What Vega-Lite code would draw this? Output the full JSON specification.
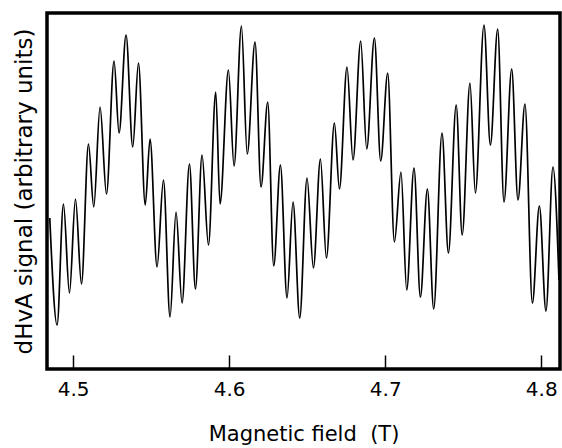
{
  "$schema": "https://vega.github.io/schema/vega-lite/v6.json",
  "autosize": {"type": "none"},
  "padding": {"left": 47, "top": 13, "right": 2, "bottom": 79},
  "width": 513,
  "height": 356,
  "background": "white",
  "config": {
    "view": {"stroke": "black", "strokeWidth": 3.5},
    "font": "DejaVu Sans"
  },
  "data": {"values": [
    {"B": 4.48507, "s": 151}, {"B": 4.48975, "s": 44}, {"B": 4.49385, "s": 165}, {"B": 4.49769, "s": 76},
    {"B": 4.50154, "s": 170}, {"B": 4.50538, "s": 85}, {"B": 4.50987, "s": 225}, {"B": 4.51326, "s": 162},
    {"B": 4.51730, "s": 262}, {"B": 4.52140, "s": 175}, {"B": 4.52627, "s": 308}, {"B": 4.52947, "s": 236},
    {"B": 4.53395, "s": 334}, {"B": 4.53824, "s": 222}, {"B": 4.54190, "s": 306}, {"B": 4.54625, "s": 164},
    {"B": 4.54933, "s": 230}, {"B": 4.55381, "s": 102}, {"B": 4.55791, "s": 189}, {"B": 4.56214, "s": 52},
    {"B": 4.56598, "s": 157}, {"B": 4.56983, "s": 66}, {"B": 4.57457, "s": 205}, {"B": 4.57841, "s": 80},
    {"B": 4.58264, "s": 214}, {"B": 4.58674, "s": 124}, {"B": 4.59142, "s": 277}, {"B": 4.59417, "s": 165},
    {"B": 4.59955, "s": 299}, {"B": 4.60314, "s": 203}, {"B": 4.60788, "s": 343}, {"B": 4.61160, "s": 215},
    {"B": 4.61659, "s": 327}, {"B": 4.62044, "s": 182}, {"B": 4.62473, "s": 267}, {"B": 4.62857, "s": 103},
    {"B": 4.63286, "s": 204}, {"B": 4.63709, "s": 71}, {"B": 4.64093, "s": 167}, {"B": 4.64523, "s": 51},
    {"B": 4.64990, "s": 191}, {"B": 4.65400, "s": 101}, {"B": 4.65849, "s": 210}, {"B": 4.66233, "s": 111},
    {"B": 4.66746, "s": 246}, {"B": 4.67066, "s": 180}, {"B": 4.67553, "s": 302}, {"B": 4.67937, "s": 209},
    {"B": 4.68430, "s": 328}, {"B": 4.68815, "s": 220}, {"B": 4.69308, "s": 331}, {"B": 4.69712, "s": 208},
    {"B": 4.70160, "s": 296}, {"B": 4.70589, "s": 127}, {"B": 4.71012, "s": 197}, {"B": 4.71377, "s": 79},
    {"B": 4.71845, "s": 201}, {"B": 4.72255, "s": 72}, {"B": 4.72703, "s": 180}, {"B": 4.73107, "s": 60},
    {"B": 4.73639, "s": 236}, {"B": 4.74049, "s": 116}, {"B": 4.74548, "s": 264}, {"B": 4.74933, "s": 134},
    {"B": 4.75432, "s": 286}, {"B": 4.75778, "s": 176}, {"B": 4.76329, "s": 344}, {"B": 4.76739, "s": 224},
    {"B": 4.77207, "s": 340}, {"B": 4.77611, "s": 167}, {"B": 4.78104, "s": 300}, {"B": 4.78507, "s": 169},
    {"B": 4.78956, "s": 265}, {"B": 4.79430, "s": 66}, {"B": 4.79878, "s": 163}, {"B": 4.80301, "s": 58},
    {"B": 4.80749, "s": 202}, {"B": 4.81134, "s": 89}
  ]},
  "mark": {"type": "line", "color": "black", "strokeWidth": 1.7, "interpolate": "monotone", "clip": true},
  "encoding": {
    "x": {
      "field": "B", "type": "quantitative",
      "scale": {"domain": [4.4833, 4.812], "nice": false, "zero": false},
      "axis": {
        "title": "Magnetic field\u00a0\u00a0(T)",
        "values": [4.5, 4.6, 4.7, 4.8],
        "format": ".1f",
        "domain": false,
        "grid": false,
        "tickSize": -14,
        "tickWidth": 1.5,
        "tickColor": "black",
        "labelFontSize": 20,
        "labelColor": "black",
        "labelPadding": 24,
        "labelFont": "DejaVu Sans",
        "titleFontSize": 21,
        "titleFontWeight": "normal",
        "titleColor": "black",
        "titleFont": "DejaVu Sans",
        "titlePadding": 24
      }
    },
    "y": {
      "field": "s", "type": "quantitative",
      "scale": {"domain": [0, 356], "nice": false},
      "axis": {
        "title": "dHvA signal (arbitrary units)",
        "labels": false,
        "ticks": false,
        "domain": false,
        "grid": false,
        "titleFontSize": 23,
        "titleFontWeight": "normal",
        "titleColor": "black",
        "titleFont": "DejaVu Sans",
        "titlePadding": 11
      }
    }
  }
}
